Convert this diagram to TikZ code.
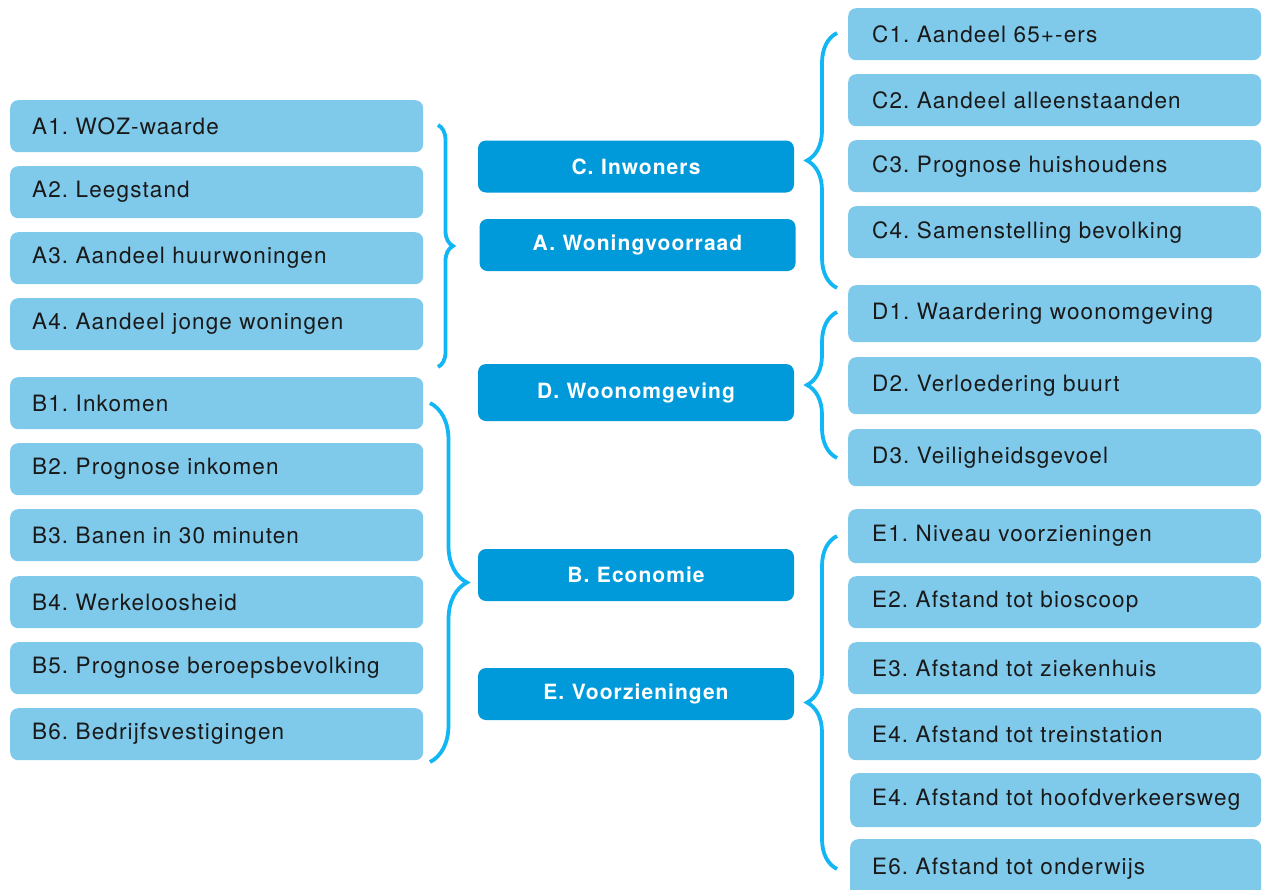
\documentclass[tikz,border=0pt]{standalone}
\usepackage{fontspec}
\setmainfont{TeX Gyre Heros}[LetterSpace=5, WordSpace=1.7, BoldFeatures={WordSpace=1.1}]
\usetikzlibrary{decorations.pathreplacing}
\definecolor{lichtblauw}{RGB}{127,201,234}
\definecolor{middenblauw}{RGB}{0,154,218}
\definecolor{accoladeblauw}{RGB}{18,182,244}
\tikzset{
  itembox/.style={rectangle, rounded corners=8pt, fill=lichtblauw, anchor=north west,
    minimum height=52pt, text width=369pt, inner xsep=22pt, inner ysep=0pt, align=left,
    font=\fontsize{22.5}{26}\selectfont, text=black!90},
  themabox/.style={rectangle, rounded corners=8pt, fill=middenblauw, minimum width=316pt,
    minimum height=52pt, inner sep=0pt, font=\fontsize{21}{24}\selectfont\bfseries, text=white},
  accolade/.style={draw=accoladeblauw, line width=3.8pt,
    decorate, decoration={brace, amplitude=#1, aspect=0.5}},
}
\begin{document}
\frenchspacing
\begin{tikzpicture}[x=1pt, y=-1pt]
\clip (0,0) rectangle (1268,889);
\node[itembox] (a1) at (10,100) {A1. WOZ-waarde};
\node[itembox] (a2) at (10,166) {A2. Leegstand};
\node[itembox] (a3) at (10,232) {A3. Aandeel huurwoningen};
\node[itembox] (a4) at (10,298) {A4. Aandeel jonge woningen};
\node[itembox] (b1) at (10,377) {B1. Inkomen};
\node[itembox] (b2) at (10,443) {B2. Prognose inkomen};
\node[itembox] (b3) at (10,509) {B3. Banen in 30 minuten};
\node[itembox] (b4) at (10,576) {B4. Werkeloosheid};
\node[itembox] (b5) at (10,642) {B5. Prognose beroepsbevolking};
\node[itembox] (b6) at (10,708) {B6. Bedrijfsvestigingen};
\node[themabox] (c) at (636,166.5) {C. Inwoners};
\node[themabox] (a) at (637.5,245) {A. Woningvoorraad};
\node[themabox, minimum height=57pt] (d) at (636,392.5) {D. Woonomgeving};
\node[themabox] (b) at (636,575) {B. Economie};
\node[themabox] (e) at (636,694) {E. Voorzieningen};
\node[itembox, inner xsep=24pt, text width=365pt] (c1) at (848,8) {C1. Aandeel 65+-ers};
\node[itembox, inner xsep=24pt, text width=365pt] (c2) at (848,74) {C2. Aandeel alleenstaanden};
\node[itembox, inner xsep=24pt, text width=365pt] (c3) at (848,140) {C3. Prognose huishoudens};
\node[itembox, inner xsep=24pt, text width=365pt] (c4) at (848,206) {C4. Samenstelling bevolking};
\node[itembox, inner xsep=24pt, text width=365pt, minimum height=57pt] (d1) at (848,285) {D1. Waardering woonomgeving};
\node[itembox, inner xsep=24pt, text width=365pt, minimum height=57pt] (d2) at (848,357) {D2. Verloedering buurt};
\node[itembox, inner xsep=24pt, text width=365pt, minimum height=57pt] (d3) at (848,429) {D3. Veiligheidsgevoel};
\node[itembox, inner xsep=24pt, text width=365pt, minimum height=54pt] (e1) at (848,509) {E1. Niveau voorzieningen};
\node[itembox, inner xsep=24pt, text width=365pt] (e2) at (848,576) {E2. Afstand tot bioscoop};
\node[itembox, inner xsep=24pt, text width=365pt] (e3) at (848,642) {E3. Afstand tot ziekenhuis};
\node[itembox, inner xsep=24pt, text width=365pt] (e4) at (848,708) {E4. Afstand tot treinstation};
\node[itembox, inner xsep=22pt, text width=367pt, minimum height=54pt] (e5) at (850,773) {E4. Afstand tot hoofdverkeersweg};
\node[itembox, inner xsep=22pt, text width=367pt, minimum height=60pt] (e6) at (850,839) {E6. Afstand tot onderwijs};
\coordinate (atop) at (438,125);
\coordinate (abot) at (438,367);
\coordinate (btop) at (430,403);
\coordinate (bbot) at (430,762);
\coordinate (ctop) at (837,33);
\coordinate (cbot) at (837,288);
\coordinate (dtop) at (837,312);
\coordinate (dbot) at (837,458);
\coordinate (etop) at (837,536);
\coordinate (ebot) at (837,869);
\draw[accolade=15pt] (atop) -- (abot);
\draw[accolade=37pt] (btop) -- (bbot);
\draw[accolade=30pt] (cbot) -- (ctop);
\draw[accolade=30pt] (dbot) -- (dtop);
\draw[accolade=30pt] (ebot) -- (etop);
\end{tikzpicture}
\end{document}
